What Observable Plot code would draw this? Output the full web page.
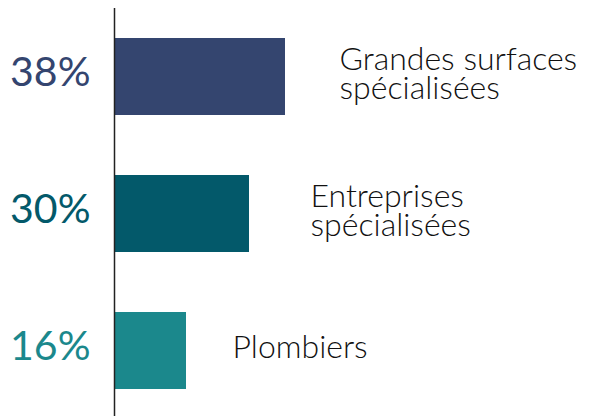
<!DOCTYPE html>
<html><head><meta charset="utf-8">
<script src="https://cdn.jsdelivr.net/npm/d3@7"></script>
<script src="https://cdn.jsdelivr.net/npm/@observablehq/plot@0.6"></script>
<style>body{margin:0;background:#fff}</style>
</head><body><div id="chart"></div>
<script>
const categories = ["Grandes surfaces\nspécialisées", "Entreprises\nspécialisées", "Plombiers"];
const values = [38, 30, 16];
const colors = ["#34456f", "#03596a", "#1b888c"];

const data = categories.map((c, i) => ({cat: c, value: values[i], color: colors[i]}));
const labelDx = [54, 61, 46];

const chart = Plot.plot({
  width: 600, height: 416,
  marginLeft: 114, marginRight: 0, marginTop: 8, marginBottom: 0,
  x: {domain: [0, 108], axis: null},
  y: {domain: categories, axis: null, paddingInner: 0.438, paddingOuter: 0.208, align: 0.53},
  style: {fontFamily: "Lato", background: "#fff"},
  marks: [
    Plot.barX(data, {y: "cat", x: "value", fill: "color"}),
    Plot.ruleX([0], {stroke: "#222", strokeWidth: 1.5}),
    Plot.text(data, {y: "cat", x: 0, text: d => d.value + "%", fill: "color", textAnchor: "end", dx: -24, dy: -4, fontSize: 41, fontFamily: "Lato"}),
    ...data.map((d, i) => Plot.text([d], {y: "cat", x: "value", text: "cat", textAnchor: "start", dx: labelDx[i], dy: -2, fontSize: 32, lineHeight: 0.92, fill: "#111", fontWeight: 300, fontFamily: "Lato"}))
  ]
});
document.getElementById("chart").append(chart);
</script></body></html>
